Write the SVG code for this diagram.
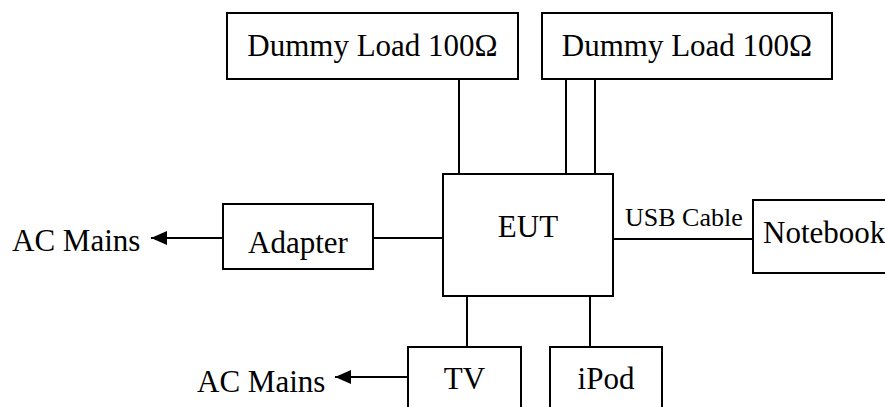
<svg xmlns="http://www.w3.org/2000/svg" width="885" height="407" viewBox="0 0 885 407" font-family="'Liberation Serif', 'Times New Roman', serif">
<style>
.box{fill:#fff;stroke:#000;stroke-width:2}
.ln{fill:none;stroke:#000;stroke-width:2}
text{font-family:'Liberation Serif','Times New Roman',serif;font-size:31px;fill:#000}
.sm{font-size:26px}
</style>
<defs>
<marker id="ah" markerUnits="userSpaceOnUse" markerWidth="18" markerHeight="14" refX="16" refY="7" orient="auto">
<path d="M0,0 L16,7 L0,14 Z" fill="#000"/>
</marker>
</defs>
<g id="connectors">
<line class="ln" x1="459" y1="79" x2="459" y2="174"/>
<line class="ln" x1="566" y1="79" x2="566" y2="174"/>
<line class="ln" x1="595" y1="79" x2="595" y2="174"/>
<line class="ln" x1="373" y1="238" x2="443" y2="238"/>
<line class="ln" x1="223" y1="238" x2="151" y2="238" marker-end="url(#ah)"/>
<line class="ln" x1="613" y1="239" x2="753" y2="239"/>
<text class="sm" x="625" y="226">USB Cable</text>
<line class="ln" x1="467" y1="296" x2="467" y2="347"/>
<line class="ln" x1="590" y1="296" x2="590" y2="347"/>
<line class="ln" x1="408" y1="377" x2="335" y2="377" marker-end="url(#ah)"/>
</g>
<g id="dummy1"><rect class="box" x="227" y="13" width="291" height="66"/><text x="372.5" y="56" text-anchor="middle">Dummy Load 100Ω</text></g>
<g id="dummy2"><rect class="box" x="542" y="13" width="290" height="66"/><text x="687" y="56" text-anchor="middle">Dummy Load 100Ω</text></g>
<g id="eut"><rect class="box" x="443" y="174" width="170" height="122"/><text x="528" y="237" text-anchor="middle">EUT</text></g>
<g id="adapter"><rect class="box" x="223" y="204" width="150" height="65"/><text x="298" y="253" text-anchor="middle">Adapter</text></g>
<g id="acmains1"><text x="12" y="251">AC Mains</text></g>
<g id="notebook"><rect class="box" x="753" y="200" width="140" height="73"/><text x="763" y="243">Notebook</text></g>
<g id="tv"><rect class="box" x="408" y="347" width="113" height="70"/><text x="464.5" y="389" text-anchor="middle">TV</text></g>
<g id="ipod"><rect class="box" x="550" y="347" width="112" height="70"/><text x="606" y="389" text-anchor="middle">iPod</text></g>
<g id="acmains2"><text x="197" y="392">AC Mains</text></g>
</svg>
